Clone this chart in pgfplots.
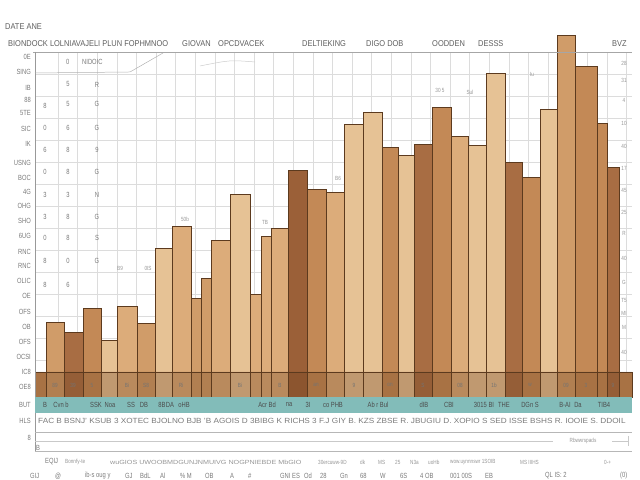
\documentclass[border=0pt]{standalone}
\usepackage{pgfplots}
\pgfplotsset{compat=1.18}
\usepackage{graphicx}
\usepackage{fontspec}
\setmainfont{Liberation Sans}
\definecolor{gridc}{HTML}{DCDCDC}
\definecolor{txtc}{HTML}{7A7A7A}
\definecolor{hdrc}{HTML}{5E5E5E}
\definecolor{barline}{HTML}{5C3A1E}
\definecolor{tealb}{HTML}{82BCB9}
\definecolor{wA}{HTML}{E6C295}
\definecolor{wB}{HTML}{DCAC7A}
\definecolor{wC}{HTML}{D09C69}
\definecolor{wD}{HTML}{C38956}
\definecolor{wE}{HTML}{A86D43}
\definecolor{wF}{HTML}{9B6038}
\definecolor{bandc}{HTML}{6B3D1C}
\newcommand{\wbar}[4]{\addplot[ybar interval, fill=#4, draw=barline, line width=0.6pt] coordinates {(#1,#3) (#2,#3)};}
\newcommand{\nt}[1]{\scalebox{0.78}[1]{#1}}
\newcommand{\nh}[1]{\scalebox{0.88}[1]{#1}}
\tikzset{
  lab/.style={font=\fontsize{7.5}{8}\selectfont, text=txtc, inner sep=0pt},
  hdr/.style={font=\fontsize{8.5}{9}\selectfont, text=hdrc, inner sep=0pt, anchor=base west},
  sml/.style={font=\fontsize{6}{7}\selectfont, text=txtc!80, inner sep=0pt},
}
\begin{document}
\begin{tikzpicture}[x=1bp,y=1bp]
\useasboundingbox (0,0) rectangle (640,480);
\begin{axis}[at={(35,83)}, anchor=south west, scale only axis,
  width=597bp, height=345bp,
  xmin=35, xmax=632, ymin=0, ymax=345, clip=false,
  axis line style={draw=none},
  xtick={58,77.6,...,630}, ytick={37,59,...,345},
  xticklabels={}, yticklabels={},
  major tick length=0pt,
  grid=major, grid style={gridc, line width=0.5pt}]
\wbar{46}{64}{75}{wC}
\wbar{64}{83}{65}{wE}
\wbar{83}{101}{89}{wD}
\wbar{101}{117}{57}{wA}
\wbar{117}{137}{91}{wB}
\wbar{137}{155}{74}{wC}
\wbar{155}{172}{149}{wA}
\wbar{172}{191}{171}{wB}
\wbar{191}{201}{99}{wC}
\wbar{201}{211}{119}{wC}
\wbar{211}{230}{157}{wB}
\wbar{230}{250}{203}{wA}
\wbar{250}{261}{103}{wB}
\wbar{261}{271}{161}{wB}
\wbar{271}{288}{169}{wB}
\wbar{288}{307}{227}{wF}
\wbar{307}{326}{208}{wD}
\wbar{326}{344}{205}{wB}
\wbar{344}{363}{273}{wA}
\wbar{363}{382}{285}{wA}
\wbar{382}{398}{250}{wD}
\wbar{398}{414}{242}{wA}
\wbar{414}{432}{253}{wE}
\wbar{432}{451}{290}{wD}
\wbar{451}{468}{261}{wB}
\wbar{468}{486}{252}{wA}
\wbar{486}{505}{324}{wA}
\wbar{505}{522}{235}{wE}
\wbar{522}{540}{220}{wD}
\wbar{540}{557}{288}{wA}
\wbar{557}{575}{362}{wC}
\wbar{575}{597}{331}{wD}
\wbar{597}{607}{274}{wD}
\wbar{607}{619}{230}{wE}
\wbar{35}{46}{25}{wD}
\wbar{619}{632}{25}{wD}
\addplot[ybar interval, fill=bandc, fill opacity=0.3, draw=barline, line width=0.6pt] coordinates {
(35,25) (46,25) (64,25) (83,25) (101,25) (117,25) (137,25) (155,25) (172,25)
(191,25) (201,25) (211,25) (230,25) (250,25) (261,25) (271,25) (288,25) (307,25)
(326,25) (344,25) (363,25) (382,25) (398,25) (414,25) (432,25) (451,25) (468,25)
(486,25) (505,25) (522,25) (540,25) (557,25) (575,25) (597,25) (607,25) (619,25) (632,25)};
\end{axis}
\begin{scope}[y=-1bp, yshift=480bp]
% frame lines
\draw[gray!70, line width=0.8pt] (33,52) -- (632,52);
\draw[gray!80, line width=0.7pt] (35,52) -- (35,452);
% title and header
\node[hdr] at (5,30) {\nh{DATE ANE}};
\node[hdr] at (8,47) {\nh{BIONDOCK LOLNIAVAJELI PLUN FOPHMNOO}};
\node[hdr] at (182,47) {\nh{GIOVAN}};
\node[hdr] at (218,47) {\nh{OPCDVACEK}};
\node[hdr] at (302,47) {\nh{DELTIEKING}};
\node[hdr] at (366,47) {\nh{DIGO DOB}};
\node[hdr] at (432,47) {\nh{OODDEN}};
\node[hdr] at (478,47) {\nh{DESSS}};
\node[hdr] at (612,47) {\nh{BVZ}};
% top-left annotation
\draw[gray!60, line width=0.5pt] (35,73) -- (130,72) -- (163,53);
\draw[gray!40, line width=0.5pt] (200,66) .. controls (230,60) .. (255,62);
\node[lab, anchor=west] at (66,62) {\nt{0}};
\node[lab, anchor=west] at (82,62) {\nt{NIDOIC}};
% glyph columns
\foreach \yy/\tt in {106/8,128/0,150/6,172/0,195/3,217/3,238/0,261/8,285/8}
  \node[lab] at (45,\yy) {\nt{\tt}};
\foreach \yy/\tt in {84/5,104/5,128/6,150/8,172/8,195/3,217/8,238/8,261/0,285/6}
  \node[lab] at (68,\yy) {\nt{\tt}};
\foreach \yy/\tt in {85/R,104/G,128/G,150/9,172/G,195/N,217/G,238/S,261/G}
  \node[lab] at (97,\yy) {\nt{\tt}};
% left labels
\foreach \yy/\tt in {57/0E,72/SING,88/IB,100/88,113/5TE,129/SIC,144/IK,163/USNG,178/BOC,192/4G,206/OHG,221/SHO,236/6UG,252/RNC,266/RNC,281/OLIC,296/OE,312/OFS,327/OB,342/OFS,357/OCSI,372/IC8,387/OE8,405/BUT,421/HLS,438/8}
  \node[lab, anchor=east] at (31,\yy) {\nt{\tt}};
% right labels
\foreach \yy/\tt in {63/28,80/31,100/4,123/10,146/40,168/17,190/45,212/25,233/R,258/40,282/G,300/T5,313/MI,327/M,352/40}
  \node[sml] at (624,\yy) {\nt{\tt}};
% small value labels
\node[sml] at (185,219) {\nt{50b}};
\node[sml] at (120,268) {\nt{B9}};
\node[sml] at (148,268) {\nt{0IS}};
\node[sml] at (265,222) {\nt{TB}};
\node[sml] at (338,178) {\nt{B6}};
\node[sml] at (440,90) {\nt{30 5}};
\node[sml] at (470,92) {\nt{Sul}};
\node[sml] at (532,74) {\nt{Iu}};
% band labels
\foreach \xx/\tt in {55/89,73/39,92/5,127/Bi,146/S8,181/Ri,240/Bi,280/B,316/an,354/9,390/on,423/S,460/08,494/1b,530/w,566/09,586/3,613/9}
  \node[sml, text=black!55] at (\xx,385) {\nt{\tt}};
% teal band
\fill[tealb] (35,397) rectangle (632,413);
\foreach \xx/\tt in {45/B,61/Cvn b,96/SSK,110/Noa,131/SS,144/DB,162/8B,170/DA,184/oHB,267/Acr Bd,289/na,308/3I,333/co PHB,378/Ab r Bul,424/dIB,449/CBI,484/3015 BI,504/THE,530/DGn S,565/B-AI,578/Da,604/TIB4}
  \node[lab, text=black!70] at (\xx,405) {\nt{\tt}};
% row under teal band
\node[lab, anchor=west] at (38,421) {\scalebox{1.1}[1]{FAC B BSNJ' KSUB 3 XOTEC BJOLNO BJB 'B AGOIS D 3BIBG K RICHS 3 F.J GIY B. KZS ZBSE R. JBUGIU D. XOPIO S SED ISSE BSHS R. IOOIE S. DDOIL}};
% box
\draw[gridc!60!gray, line width=0.5pt] (35,432) -- (632,432);
\draw[gridc!60!gray, line width=0.5pt] (35,451) -- (632,451);
\draw[gridc!80!gray, line width=0.4pt] (35,441) -- (553,441);
\draw[gridc!80!gray, line width=0.4pt] (612,441) -- (628,441);
\draw[gridc!80!gray, line width=0.4pt] (628,436) -- (628,446);
\node[sml] at (583,441) {\nt{Rbwwrspads}};
\node[lab] at (38,448) {\nt{B}};
% bottom lines
\node[lab, anchor=west] at (45,462) {\nt{EQIJ}};
\node[sml, anchor=west] at (65,462) {\nt{Bonnfy-te}};
\node[sml, anchor=west] at (110,462) {\scalebox{1.2}[1]{wuGIOS UWOOBMDGUNJNMUIVG NOGPNIEBDE MbGIO}};
\node[sml, anchor=west] at (318,462) {\nt{30ercuww-9D}};
\node[sml, anchor=west] at (360,462) {\nt{dk}};
\node[sml, anchor=west] at (378,462) {\nt{MS}};
\node[sml, anchor=west] at (395,462) {\nt{25}};
\node[sml, anchor=west] at (410,462) {\nt{N3a}};
\node[sml, anchor=west] at (428,462) {\nt{uoHb}};
\node[sml, anchor=west] at (450,462) {\nt{wow.uynnnswr 1SOIB}};
\node[sml, anchor=west] at (520,462) {\nt{MS IIIHS}};
\node[sml, anchor=west] at (604,462) {\nt{0-+}};
\foreach \xx/\tt in {30/GIJ,55/@,85/ib-s oug y,125/GJ,140/BdL,160/Al,180/\% M,205/OB,230/A,248/\#,262//,280/GNI,292/ES,304/Od,320/28,340/Gn,360/68,380/W,400/6S,420/4 OB,450/001 00S,485/EB,545/QL IS: 2,620/(0)}
  \node[lab, anchor=west] at (\xx,476) {\nt{\tt}};
\end{scope}
\end{tikzpicture}
\end{document}
